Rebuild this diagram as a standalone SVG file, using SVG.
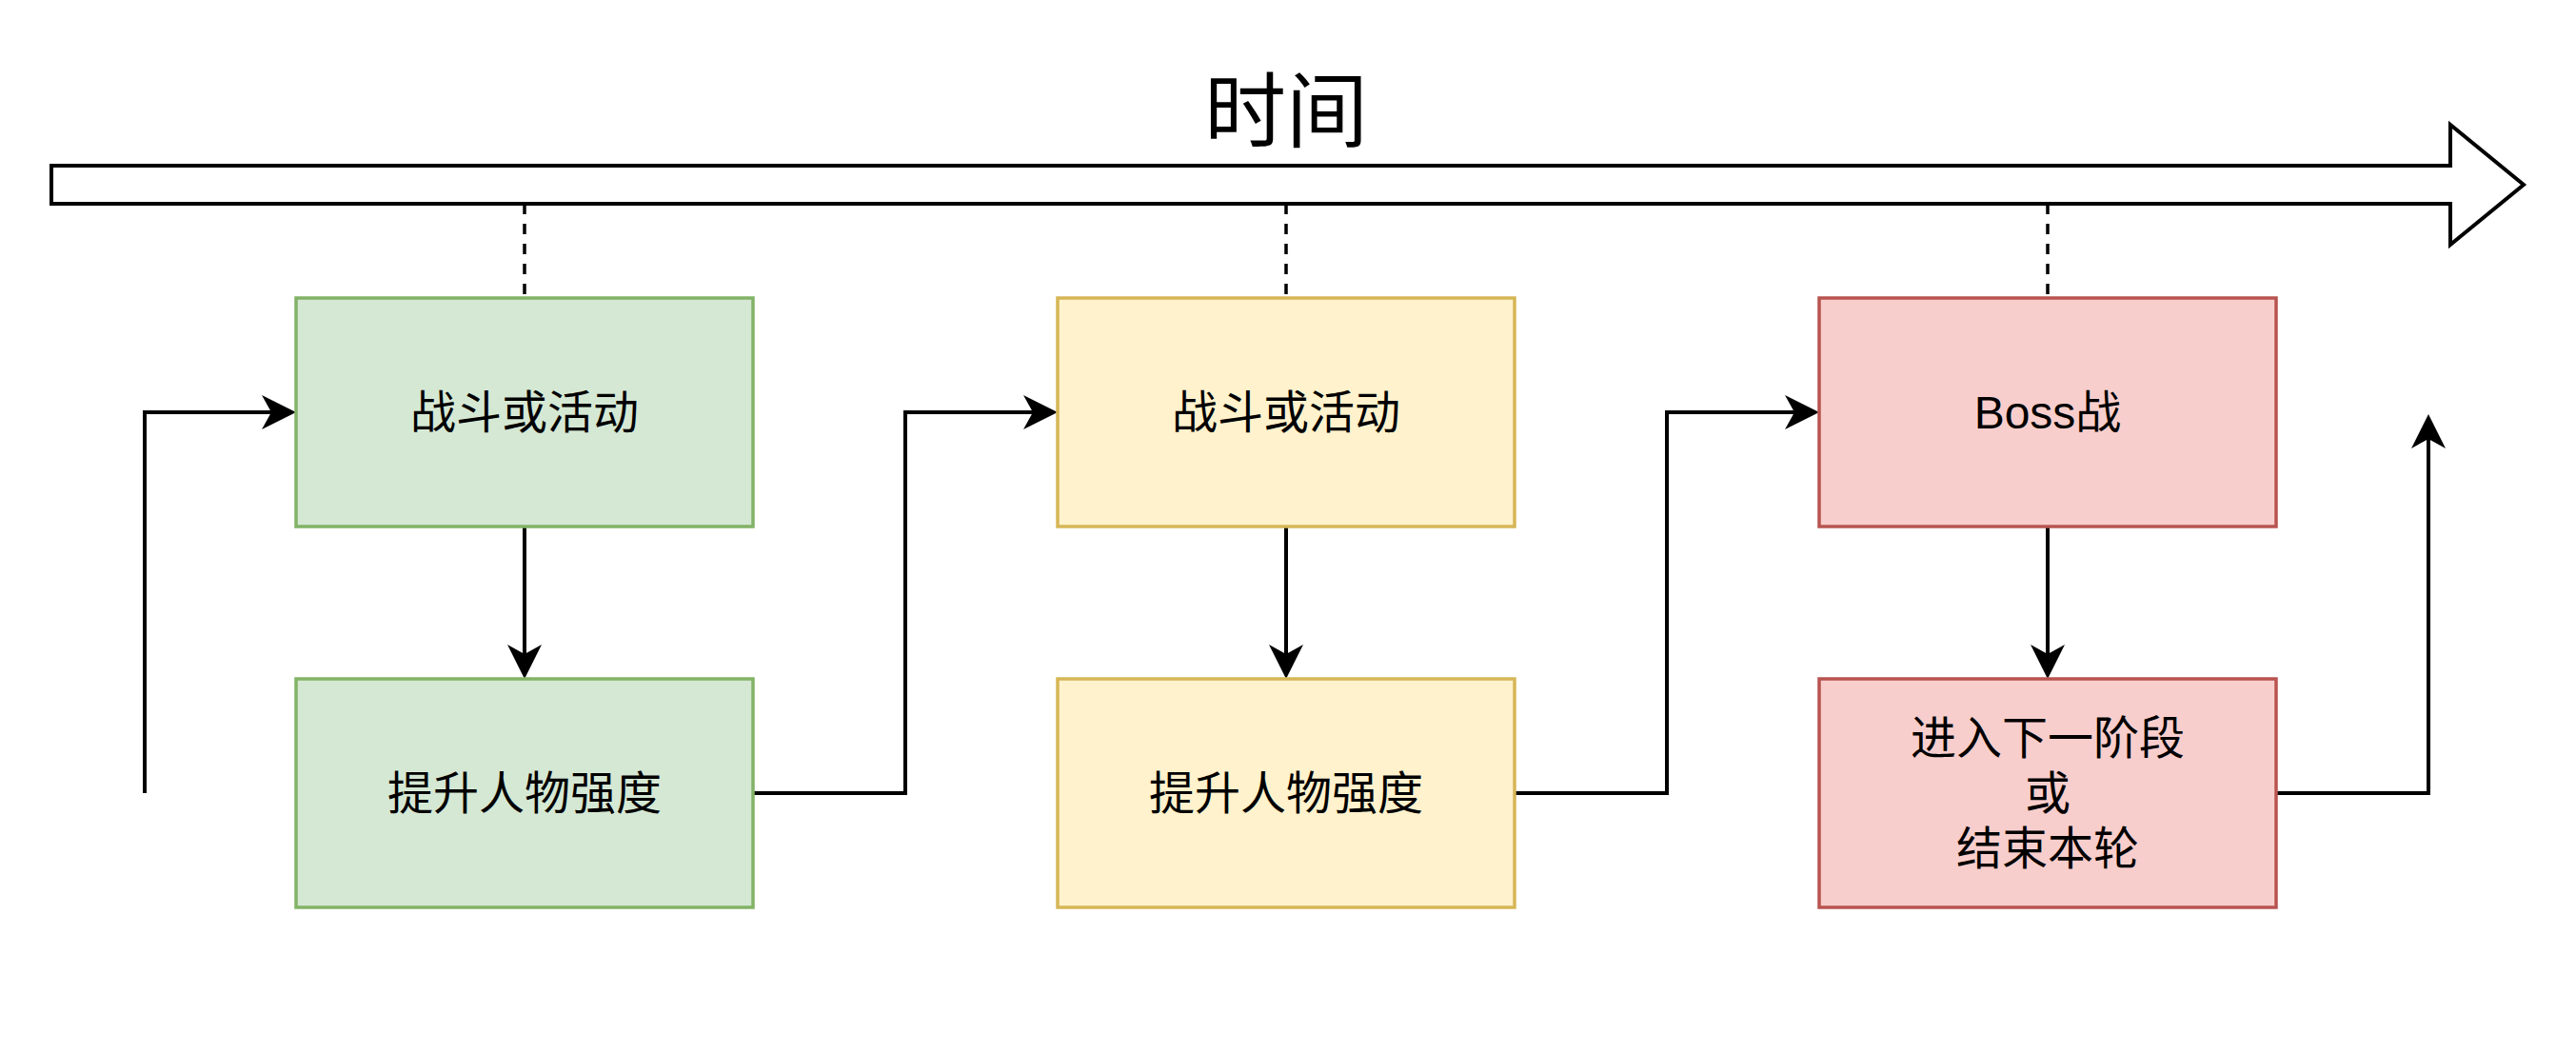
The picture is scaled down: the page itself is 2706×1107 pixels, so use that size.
<svg xmlns="http://www.w3.org/2000/svg" width="2706" height="1107" viewBox="0 0 2706 1107">
  <style>
    .box { stroke-width: 3.5; }
    .green { fill: #d5e8d4; stroke: #82b366; }
    .yellow { fill: #fff2cc; stroke: #d6b656; }
    .red { fill: #f8cecc; stroke: #b85450; }
    .lbl { font-family: "Liberation Sans", "Noto Sans CJK SC", sans-serif; font-size: 48px; fill: #000; text-anchor: middle; dominant-baseline: central; }
    .title { font-family: "Liberation Sans", "Noto Sans CJK SC", sans-serif; font-size: 86px; fill: #000; text-anchor: middle; dominant-baseline: central; }
    .conn { fill: none; stroke: #000; stroke-width: 4; }
    .dash { fill: none; stroke: #000; stroke-width: 3.5; stroke-dasharray: 11 10; }
  </style>
  <defs>
    <marker id="arr" markerUnits="userSpaceOnUse" orient="auto" overflow="visible" markerWidth="1" markerHeight="1" refX="0" refY="0">
      <path d="M26,0 L-10,-18 L0,0 L-10,18 Z" fill="#000"/>
    </marker>
  </defs>
  <rect width="2706" height="1107" fill="#ffffff"/>

  <g id="timeline">
    <path d="M54,174 H2574 V131 L2651,194 L2574,257 V214 H54 Z" fill="#ffffff" stroke="#000" stroke-width="4" stroke-linejoin="miter"/>
    <text class="title" x="1351" y="118">时间</text>
  </g>

  <g id="connectors">
    <path class="dash" d="M551,214 V313"/>
    <path class="dash" d="M1351,214 V313"/>
    <path class="dash" d="M2151,214 V313"/>
    <path class="conn" d="M152,833 V433 H285" marker-end="url(#arr)"/>
    <path class="conn" d="M551,553 V687" marker-end="url(#arr)"/>
    <path class="conn" d="M791,833 H951 V433 H1085" marker-end="url(#arr)"/>
    <path class="conn" d="M1351,553 V687" marker-end="url(#arr)"/>
    <path class="conn" d="M1591,833 H1751 V433 H1885" marker-end="url(#arr)"/>
    <path class="conn" d="M2151,553 V687" marker-end="url(#arr)"/>
    <path class="conn" d="M2391,833 H2551 V461" marker-end="url(#arr)"/>
  </g>

  <g id="node1">
    <rect class="box green" x="311" y="313" width="480" height="240"/>
    <text class="lbl" x="551" y="433">战斗或活动</text>
  </g>
  <g id="node2">
    <rect class="box green" x="311" y="713" width="480" height="240"/>
    <text class="lbl" x="551" y="833">提升人物强度</text>
  </g>
  <g id="node3">
    <rect class="box yellow" x="1111" y="313" width="480" height="240"/>
    <text class="lbl" x="1351" y="433">战斗或活动</text>
  </g>
  <g id="node4">
    <rect class="box yellow" x="1111" y="713" width="480" height="240"/>
    <text class="lbl" x="1351" y="833">提升人物强度</text>
  </g>
  <g id="node5">
    <rect class="box red" x="1911" y="313" width="480" height="240"/>
    <text class="lbl" x="2151" y="433">Boss战</text>
  </g>
  <g id="node6">
    <rect class="box red" x="1911" y="713" width="480" height="240"/>
    <text class="lbl" x="2151" y="775">进入下一阶段</text>
    <text class="lbl" x="2151" y="833">或</text>
    <text class="lbl" x="2151" y="891">结束本轮</text>
  </g>
</svg>
